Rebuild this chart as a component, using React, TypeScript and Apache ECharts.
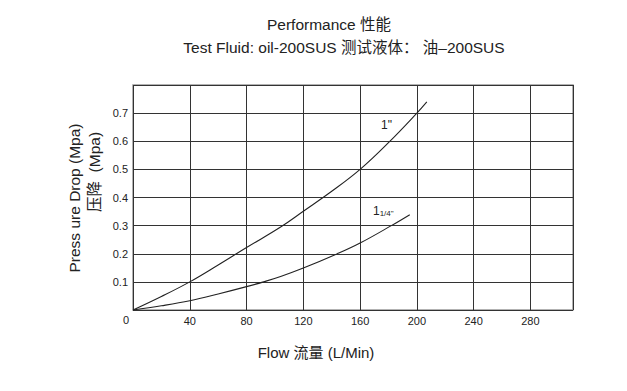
import React, { useEffect, useRef } from "react";
import * as echarts from "echarts";

const flow1 = [0, 20, 40, 60, 80, 104, 120, 140, 160, 180, 200, 207];
const drop1 = [0, 0.048, 0.1, 0.16, 0.222, 0.295, 0.351, 0.422, 0.5, 0.595, 0.7, 0.74];
const flow114 = [0, 20, 40, 60, 80, 92, 104, 120, 144, 160, 182, 195];
const drop114 = [0, 0.015, 0.033, 0.057, 0.083, 0.1, 0.119, 0.149, 0.2, 0.238, 0.3, 0.339];
const xTicks = [40, 80, 120, 160, 200, 240, 280];
const yTicks = [0.1, 0.2, 0.3, 0.4, 0.5, 0.6, 0.7];

const FONT = "'Liberation Sans', 'Noto Sans CJK SC', sans-serif";
const INK = "#222";

export default function App() {
  const ref = useRef<HTMLDivElement>(null);
  useEffect(() => {
    if (!ref.current) return;
    const chart = echarts.init(ref.current, undefined, { renderer: "svg" });
    chart.setOption({
      animation: false,
      backgroundColor: "#fff",
      textStyle: { fontFamily: FONT },
      title: [
        {
          text: "Performance 性能",
          left: 324,
          top: 12,
          textAlign: "center",
          textStyle: { fontFamily: FONT, fontSize: 15.5, fontWeight: "normal", color: INK },
        },
        {
          text: "Test Fluid: oil-200SUS 测试液体： 油–200SUS",
          left: 339,
          top: 35,
          textAlign: "center",
          textStyle: { fontFamily: FONT, fontSize: 15.5, fontWeight: "normal", color: INK },
        },
      ],
      grid: {
        left: 133,
        top: 85,
        width: 440,
        height: 225,
        show: true,
        borderColor: "#999",
        borderWidth: 1.5,
      },
      xAxis: {
        type: "value",
        min: 0,
        max: 310,
        interval: 40,
        axisLine: { show: false },
        axisTick: { show: false },
        splitLine: { show: true, lineStyle: { color: "#333", width: 1 } },
        axisLabel: {
          color: INK,
          fontSize: 11,
          fontFamily: FONT,
          margin: 5,
          formatter: (v: number) => (xTicks.includes(v) ? String(v) : ""),
        },
      },
      yAxis: {
        type: "value",
        min: 0,
        max: 0.8,
        interval: 0.1,
        axisLine: { show: false },
        axisTick: { show: false },
        splitLine: { show: true, lineStyle: { color: "#333", width: 1 } },
        axisLabel: {
          color: INK,
          fontSize: 11,
          fontFamily: FONT,
          margin: 5,
          formatter: (v: number) => {
            const r = Math.round(v * 10) / 10;
            return yTicks.some((t) => Math.abs(t - r) < 1e-6) ? r.toFixed(1) : "";
          },
        },
      },
      series: [
        {
          name: '1"',
          type: "line",
          smooth: 0.4,
          symbol: "none",
          lineStyle: { color: INK, width: 1.1 },
          data: flow1.map((x, i) => [x, drop1[i]]),
        },
        {
          name: '1 1/4"',
          type: "line",
          smooth: 0.4,
          symbol: "none",
          lineStyle: { color: INK, width: 1.1 },
          data: flow114.map((x, i) => [x, drop114[i]]),
        },
      ],
      graphic: [
        {
          type: "text",
          x: 126,
          y: 314,
          style: { text: "0", fontSize: 11, fontFamily: FONT, fill: INK, textAlign: "center" },
        },
        {
          type: "text",
          x: 381,
          y: 119,
          style: { text: '1"', fontSize: 12, fontFamily: FONT, fill: INK },
        },
        {
          type: "text",
          x: 373,
          y: 205,
          style: {
            text: "{a|1}{b|1/4\"}",
            fontFamily: FONT,
            fill: INK,
            rich: {
              a: { fontSize: 12, fontFamily: FONT, fill: INK, verticalAlign: "bottom" },
              b: { fontSize: 8, fontFamily: FONT, fill: INK, verticalAlign: "bottom", padding: [3, 0, 0, 0] },
            },
          },
        },
        {
          type: "text",
          x: 67,
          y: 198,
          rotation: Math.PI / 2,
          style: {
            text: "Press ure Drop (Mpa)",
            fontSize: 15.5,
            fontFamily: FONT,
            fill: INK,
            textAlign: "center",
            textVerticalAlign: "top",
          },
        },
        {
          type: "text",
          x: 87,
          y: 172,
          rotation: Math.PI / 2,
          style: {
            text: "压降  (Mpa)",
            fontSize: 15.5,
            fontFamily: FONT,
            fill: INK,
            textAlign: "center",
            textVerticalAlign: "top",
          },
        },
        {
          type: "text",
          x: 316,
          y: 345,
          style: {
            text: "Flow 流量 (L/Min)",
            fontSize: 15,
            fontFamily: FONT,
            fill: INK,
            textAlign: "center",
          },
        },
      ],
    });
    return () => chart.dispose();
  }, []);
  return <div ref={ref} style={{ width: 627, height: 391, position: "absolute", left: 0, top: 0 }} />;
}
